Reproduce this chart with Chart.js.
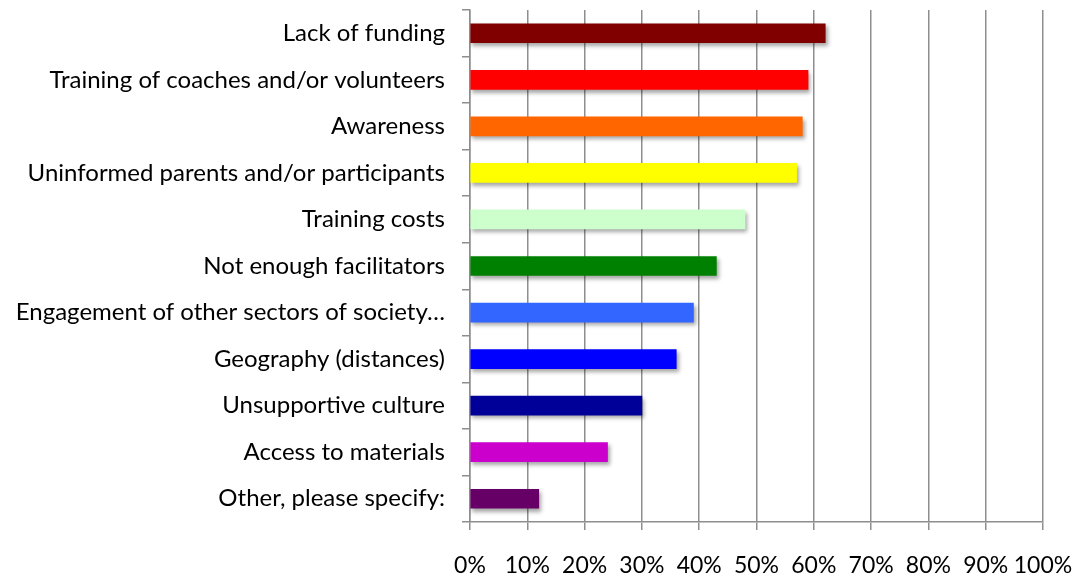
<!DOCTYPE html>
<html lang="en">
<head>
    <meta charset="UTF-8">
    <title>Barriers</title>
    <script src="https://cdn.jsdelivr.net/npm/chart.js"></script>
    <style>
        html, body { margin: 0; padding: 0; background: #fff; }
        #wrap { width: 1085px; height: 578px; }
    </style>
</head>
<body>
    <div id="wrap"><canvas id="barChart"></canvas></div>

    <script>
        // categorias de arriba hacia abajo
        const categories = [
            'Lack of funding',
            'Training of coaches and/or volunteers',
            'Awareness',
            'Uninformed parents and/or participants',
            'Training costs',
            'Not enough facilitators',
            'Engagement of other sectors of society\u2026',
            'Geography (distances)',
            'Unsupportive culture',
            'Access to materials',
            'Other, please specify:'
        ];
        const percentages = [62, 59, 58, 57, 48, 43, 39, 36, 30, 24, 12];
        const barColors = ['#800000', '#FF0000', '#FF6600', '#FFFF00', '#CCFFCC', '#008000',
                           '#3366FF', '#0000FF', '#000099', '#CC00CC', '#660066'];
        const tickValues = [0, 10, 20, 30, 40, 50, 60, 70, 80, 90, 100];

        const gridGray = '#8e8e8e';
        const labelFont = { family: 'Lato', size: 24, lineHeight: 1 };
        const xFont = { family: 'Lato', size: 23, lineHeight: 1 };

        // sombra de las barras
        const shadowPlugin = {
            id: 'barShadow',
            beforeDatasetDraw(chart) {
                const ctx = chart.ctx;
                ctx.save();
                ctx.shadowColor = 'rgba(0,0,0,0.35)';
                ctx.shadowBlur = 4;
                ctx.shadowOffsetX = 2;
                ctx.shadowOffsetY = 3;
            },
            afterDatasetDraw(chart) {
                chart.ctx.restore();
            }
        };

        new Chart(document.getElementById('barChart').getContext('2d'), {
            type: 'bar',
            data: {
                labels: categories,
                datasets: [{
                    data: percentages,
                    backgroundColor: barColors,
                    borderWidth: 0,
                    barThickness: 19
                }]
            },
            options: {
                indexAxis: 'y',
                responsive: true,
                maintainAspectRatio: false,
                animation: false,
                layout: { padding: { top: 10, right: 42, left: 0, bottom: 0 } },
                plugins: { legend: { display: false }, tooltip: { enabled: false } },
                scales: {
                    x: {
                        min: 0,
                        max: 100,
                        afterBuildTicks(scale) {
                            scale.ticks = tickValues.map(v => ({ value: v }));
                        },
                        afterFit(scale) {
                            scale.height = 56;
                            scale.paddingLeft = 0;
                            scale.paddingRight = 0;
                        },
                        grid: { color: gridGray, lineWidth: 1.5, tickLength: 8 },
                        border: { color: gridGray, width: 1.5 },
                        ticks: {
                            color: '#000',
                            font: xFont,
                            padding: 24,
                            maxRotation: 0,
                            autoSkip: false,
                            callback: v => v + '%'
                        }
                    },
                    y: {
                        afterFit(scale) {
                            scale.width = 470;
                            scale.paddingTop = 0;
                            scale.paddingBottom = 0;
                        },
                        grid: { drawOnChartArea: false, color: gridGray, lineWidth: 1.5, tickLength: 8 },
                        border: { color: gridGray, width: 1.5 },
                        ticks: { color: '#000', font: labelFont, padding: 17, autoSkip: false }
                    }
                }
            },
            plugins: [shadowPlugin]
        });
    </script>
</body>
</html>
